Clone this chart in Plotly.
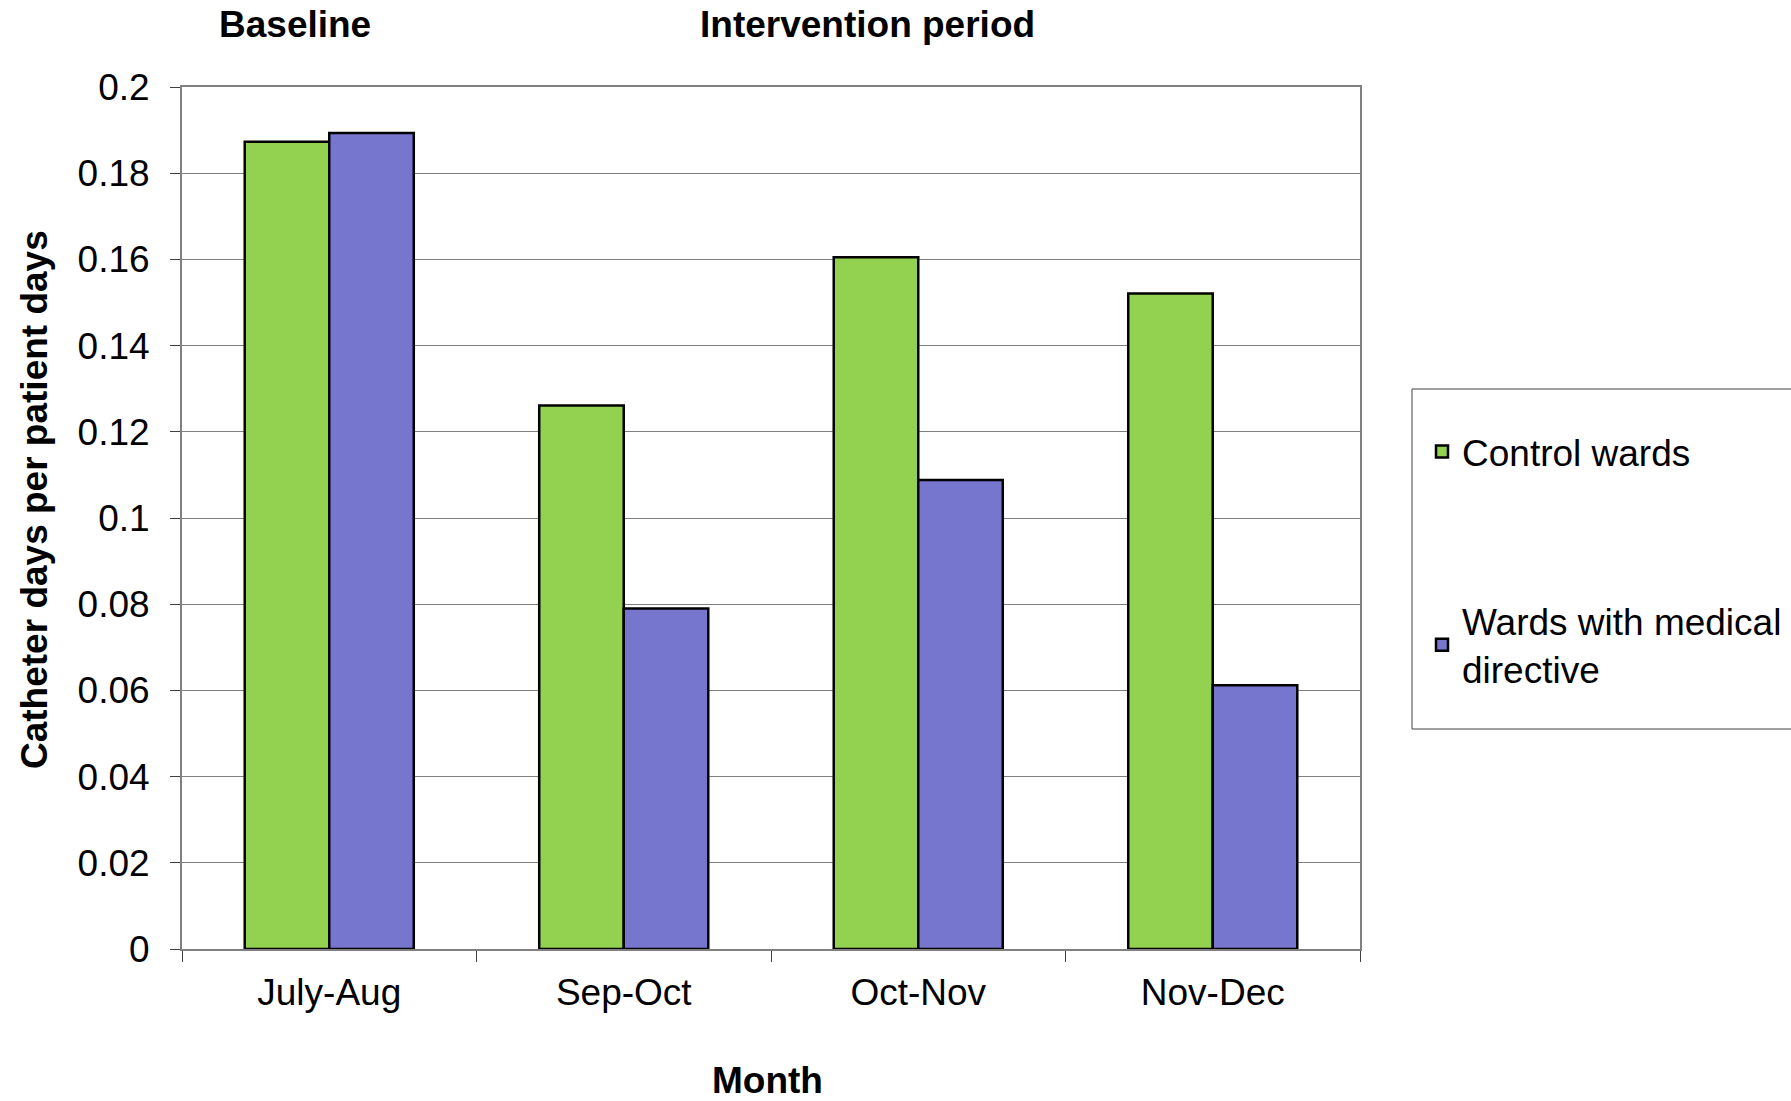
import plotly.graph_objects as go

# Catheter days per patient days, by two-month period
months = ["July-Aug", "Sep-Oct", "Oct-Nov", "Nov-Dec"]
control_wards = [0.1873, 0.1261, 0.1605, 0.1521]
directive_wards = [0.1893, 0.0790, 0.1088, 0.0612]
series_names = ["Control wards", "Wards with medical<br>directive"]
y_ticks = [0, 0.02, 0.04, 0.06, 0.08, 0.1, 0.12, 0.14, 0.16, 0.18, 0.2]
y_tick_text = ["0", "0.02", "0.04", "0.06", "0.08", "0.1", "0.12", "0.14", "0.16", "0.18", "0.2"]

FONT = "Liberation Sans, Arial, sans-serif"
GREEN = "#93D150"
BLUE = "#7676CF"

fig = go.Figure()
fig.add_trace(go.Bar(
    x=months, y=control_wards, name=series_names[0], legendgroup="a",
    marker=dict(color=GREEN, line=dict(color="black", width=2.5)),
))
fig.add_trace(go.Bar(
    x=months, y=directive_wards, name=series_names[1], legendgroup="b",
    marker=dict(color=BLUE, line=dict(color="black", width=2.5)),
))

W, H = 1791, 1101
L, R, T, B = 182, 431, 87, 152
pw, ph = W - L - R, H - T - B


def px_x(x):
    return (x - L) / pw


def px_y(y):
    return (H - B - y) / ph


fig.update_layout(
    width=W, height=H,
    margin=dict(l=L, r=R, t=T, b=B, pad=0, autoexpand=False),
    paper_bgcolor="white", plot_bgcolor="white",
    font=dict(family=FONT, size=37, color="black"),
    barmode="group", bargap=0.426, bargroupgap=0,
    showlegend=True,
    legend=dict(
        x=px_x(1422), y=px_y(421), xanchor="left", yanchor="top",
        font=dict(family=FONT, size=37, color="black"),
        bgcolor="rgba(0,0,0,0)", borderwidth=0,
        tracegroupgap=118, traceorder="grouped",
    ),
    xaxis=dict(
        showgrid=False, showline=True, linecolor="#808080", linewidth=2,
        mirror=True, ticks="outside", tickson="boundaries", ticklen=11,
        tickcolor="#404040", tickwidth=1, ticklabelstandoff=10,
        tickfont=dict(family=FONT, size=37, color="black"),
    ),
    yaxis=dict(
        range=[0, 0.2], tickvals=y_ticks, ticktext=y_tick_text,
        showgrid=True, gridcolor="#808080", gridwidth=1,
        showline=True, linecolor="#808080", linewidth=2, mirror=True,
        ticks="outside", ticklen=10, tickcolor="#404040", tickwidth=1,
        ticklabelstandoff=13,
        tickfont=dict(family=FONT, size=37, color="black"),
        zeroline=False,
    ),
)

# Legend frame (runs off the right edge of the page)
fig.add_shape(type="rect", xref="paper", yref="paper",
              x0=px_x(1412), x1=px_x(1830), y0=px_y(729), y1=px_y(389),
              line=dict(color="#404040", width=1), fillcolor="rgba(0,0,0,0)",
              layer="above")

bold = dict(family=FONT, size=37, color="black")
fig.add_annotation(text="<b>Baseline</b>", xref="paper", yref="paper",
                   x=px_x(295), y=px_y(25), showarrow=False,
                   xanchor="center", yanchor="middle", font=bold)
fig.add_annotation(text="<b>Intervention period</b>", xref="paper", yref="paper",
                   x=px_x(867), y=px_y(25), showarrow=False,
                   xanchor="center", yanchor="middle", font=bold)
fig.add_annotation(text="<b>Month</b>", xref="paper", yref="paper",
                   x=px_x(767), y=px_y(1080), showarrow=False,
                   xanchor="center", yanchor="middle", font=bold)
fig.add_annotation(text="<b>Catheter days per patient days</b>", xref="paper", yref="paper",
                   x=px_x(34), y=px_y(500), showarrow=False, textangle=-90,
                   xanchor="center", yanchor="middle", font=bold)

fig.write_html("out.html")
